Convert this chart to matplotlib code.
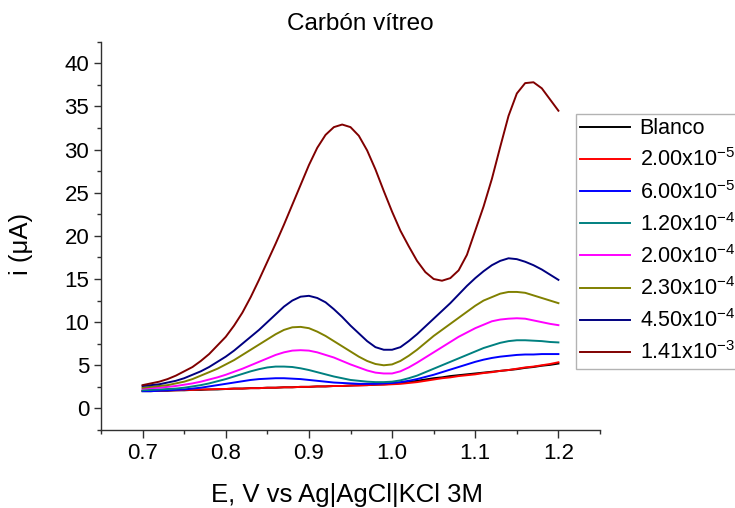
import numpy as np
import matplotlib
matplotlib.use("Agg")
import matplotlib.pyplot as plt
from matplotlib.ticker import MultipleLocator, FormatStrFormatter

plt.rcParams['font.family'] = ['Liberation Sans', 'DejaVu Sans']
plt.rcParams['mathtext.fontset'] = 'custom'
plt.rcParams['mathtext.rm'] = 'Liberation Sans'
plt.rcParams['mathtext.it'] = 'Liberation Sans:italic'
plt.rcParams['mathtext.bf'] = 'Liberation Sans:bold'

potential = np.round(np.arange(0.70, 1.2001, 0.01), 2)

blanco = [2.0, 2.0, 2.05, 2.05, 2.1, 2.1, 2.15, 2.15, 2.2, 2.2,
          2.25, 2.3, 2.3, 2.35, 2.35, 2.4, 2.4, 2.45, 2.45, 2.5,
          2.5, 2.55, 2.55, 2.6, 2.6, 2.65, 2.7, 2.7, 2.75, 2.8,
          2.85, 2.95, 3.05, 3.2, 3.35, 3.5, 3.6, 3.75, 3.85, 3.95,
          4.05, 4.15, 4.25, 4.35, 4.45, 4.55, 4.7, 4.8, 4.95, 5.05, 5.2]
c_2_00e5 = [2.05, 2.05, 2.05, 2.1, 2.1, 2.15, 2.15, 2.2, 2.2, 2.25,
            2.25, 2.3, 2.3, 2.35, 2.35, 2.4, 2.4, 2.45, 2.45, 2.5,
            2.5, 2.55, 2.55, 2.6, 2.6, 2.65, 2.65, 2.7, 2.75, 2.75,
            2.8, 2.85, 2.95, 3.05, 3.2, 3.35, 3.5, 3.6, 3.75, 3.85,
            3.95, 4.1, 4.2, 4.35, 4.45, 4.6, 4.75, 4.85, 5.0, 5.15, 5.35]
c_6_00e5 = [2.0, 2.0, 2.05, 2.1, 2.15, 2.2, 2.3, 2.4, 2.55, 2.7,
            2.85, 3.0, 3.15, 3.3, 3.4, 3.45, 3.5, 3.5, 3.45, 3.4,
            3.3, 3.2, 3.1, 3.0, 2.95, 2.9, 2.85, 2.85, 2.85, 2.9,
            2.95, 3.05, 3.2, 3.4, 3.65, 3.9, 4.2, 4.5, 4.8, 5.1,
            5.4, 5.65, 5.85, 6.0, 6.1, 6.2, 6.25, 6.25, 6.3, 6.3, 6.3]
c_1_20e4 = [2.1, 2.15, 2.2, 2.25, 2.3, 2.4, 2.55, 2.7, 2.9, 3.15,
            3.4, 3.7, 4.0, 4.3, 4.55, 4.75, 4.85, 4.85, 4.8, 4.65,
            4.45, 4.2, 3.95, 3.7, 3.5, 3.3, 3.2, 3.1, 3.05, 3.05,
            3.1, 3.25, 3.5, 3.8, 4.2, 4.6, 5.0, 5.4, 5.8, 6.2,
            6.6, 7.0, 7.3, 7.6, 7.8, 7.9, 7.9, 7.85, 7.8, 7.7, 7.65]
c_2_00e4 = [2.3, 2.35, 2.4, 2.5, 2.6, 2.75, 2.9, 3.1, 3.35, 3.6,
            3.9, 4.25, 4.6, 5.0, 5.4, 5.8, 6.2, 6.5, 6.7, 6.75,
            6.7, 6.5, 6.2, 5.9, 5.5, 5.1, 4.75, 4.4, 4.15, 4.05,
            4.05, 4.3, 4.75, 5.3, 5.9, 6.5, 7.1, 7.7, 8.3, 8.8,
            9.3, 9.7, 10.1, 10.3, 10.4, 10.45, 10.4, 10.2, 10.0, 9.8, 9.65]
c_2_30e4 = [2.4, 2.5, 2.6, 2.7, 2.9, 3.1, 3.4, 3.8, 4.2, 4.6,
            5.1, 5.6, 6.2, 6.8, 7.4, 8.0, 8.6, 9.1, 9.4, 9.45,
            9.3, 8.9, 8.4, 7.8, 7.2, 6.6, 6.0, 5.5, 5.15, 5.0,
            5.1, 5.5, 6.1, 6.8, 7.6, 8.4, 9.1, 9.8, 10.5, 11.2,
            11.9, 12.5, 12.9, 13.3, 13.5, 13.5, 13.4, 13.1, 12.8, 12.5, 12.2]
c_4_50e4 = [2.6, 2.7, 2.8, 3.0, 3.2, 3.5, 3.9, 4.3, 4.8, 5.4,
            6.0, 6.7, 7.5, 8.3, 9.1, 10.0, 10.9, 11.8, 12.5, 12.95,
            13.05, 12.8, 12.3, 11.5, 10.6, 9.6, 8.7, 7.8, 7.1, 6.8,
            6.8, 7.1, 7.8, 8.6, 9.5, 10.4, 11.3, 12.2, 13.2, 14.2,
            15.1, 15.9, 16.6, 17.1, 17.4, 17.3, 17.0, 16.6, 16.1, 15.5, 14.9]
c_1_41e3 = [2.7, 2.9, 3.1, 3.4, 3.8, 4.3, 4.8, 5.5, 6.3, 7.3,
            8.3, 9.6, 11.1, 12.9, 14.9, 17.0, 19.1, 21.3, 23.6, 25.9,
            28.2, 30.2, 31.7, 32.6, 32.9, 32.6, 31.6, 29.9, 27.7, 25.2,
            22.8, 20.6, 18.8, 17.1, 15.8, 15.0, 14.8, 15.1, 16.0, 17.8,
            20.6, 23.4, 26.6, 30.3, 33.9, 36.5, 37.7, 37.8, 37.1, 35.8, 34.5]

labels = ['Blanco',
          r'2.00x10$^{\mathregular{-5}}$',
          r'6.00x10$^{\mathregular{-5}}$',
          r'1.20x10$^{\mathregular{-4}}$',
          r'2.00x10$^{\mathregular{-4}}$',
          r'2.30x10$^{\mathregular{-4}}$',
          r'4.50x10$^{\mathregular{-4}}$',
          r'1.41x10$^{\mathregular{-3}}$']
series = [blanco, c_2_00e5, c_6_00e5, c_1_20e4, c_2_00e4, c_2_30e4, c_4_50e4, c_1_41e3]
colors = ['#000000', '#FF0000', '#0000FF', '#008080', '#FF00FF', '#808000', '#000080', '#800000']

W, H = 735, 508
fig = plt.figure(figsize=(W / 100, H / 100), dpi=100)
ax = fig.add_axes([101 / W, 78 / H, 499 / W, 388.3 / H])

for y, c, lab in zip(series, colors, labels):
    ax.plot(potential, y, color=c, lw=1.4, label=lab)

ax.set_xlim(0.65, 1.25)
ax.set_ylim(-2.5, 42.5)
ax.xaxis.set_major_locator(MultipleLocator(0.1))
ax.xaxis.set_minor_locator(MultipleLocator(0.05))
ax.yaxis.set_major_locator(MultipleLocator(5))
ax.yaxis.set_minor_locator(MultipleLocator(2.5))
ax.xaxis.set_major_formatter(FormatStrFormatter('%.1f'))

for s in ['top', 'right']:
    ax.spines[s].set_visible(False)
for s in ['left', 'bottom']:
    ax.spines[s].set_color('#303030')
    ax.spines[s].set_linewidth(1.0)
ax.tick_params(which='major', direction='out', length=5.4, width=1.0, color='#303030',
               labelsize=16, pad=4)
ax.tick_params(which='minor', direction='out', length=3.0, width=1.0, color='#303030')
ax.tick_params(axis='y', which='major', pad=3)

fig.text(360 / W, 1 - 30 / H, 'Carbón vítreo', ha='center', va='baseline', fontsize=17.5)
fig.text(347 / W, 6 / H, 'E, V vs Ag|AgCl|KCl 3M', ha='center', va='baseline', fontsize=18.5)
fig.text(21 / W, 1 - 243.5 / H, 'i (μA)', ha='center', va='center', rotation=90, fontsize=18.5)

leg = fig.legend(loc='upper left', bbox_to_anchor=(576 / W, 1 - 114 / H),
                 bbox_transform=fig.transFigure, borderaxespad=0, fontsize=15.5,
                 frameon=True, fancybox=False, handlelength=2.3, handletextpad=0.45,
                 labelspacing=0.43, borderpad=0.2)
leg.get_frame().set_edgecolor('#a0a0a0')
leg.get_frame().set_linewidth(1.0)

fig.savefig('out.png', dpi=100)
